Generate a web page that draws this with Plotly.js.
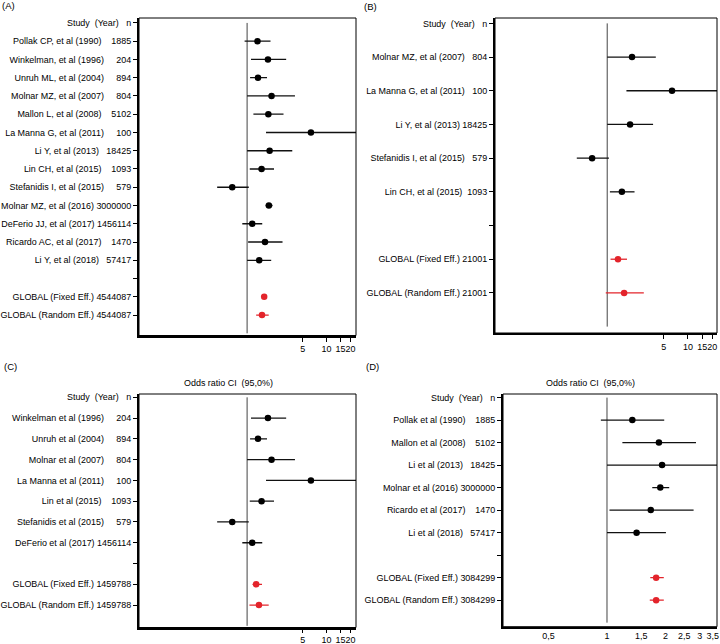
<!DOCTYPE html>
<html><head><meta charset="utf-8">
<script src="https://cdn.plot.ly/plotly-3.0.1.min.js"></script>
<style>html,body{margin:0;padding:0;background:#fff}</style>
</head><body><div id="chart" style="width:720px;height:644px"></div>
<script>
const headerLabel = "Study\u00A0\u00A0(Year)\u00A0\u00A0\u00A0n";
const refValue = 1;

// ---- Panel A ----
const studiesA = ["Pollak CP, et al (1990)","Winkelman, et al (1996)","Unruh ML, et al (2004)","Molnar MZ, et al (2007)","Mallon L, et al (2008)","La Manna G, et al (2011)","Li Y, et al (2013)","Lin CH, et al (2015)","Stefanidis I, et al (2015)","Molnar MZ, et al (2016)","DeFerio JJ, et al (2017)","Ricardo AC, et al (2017)","Li Y, et al (2018)"];
const nA  = ["1885","204","894","804","5102","100","18425","1093","579","3000000","1456114","1470","57417"];
const orA = [1.35, 1.83, 1.37, 2.03, 1.85, 6.35, 1.92, 1.52, 0.65, 1.88, 1.16, 1.68, 1.42];
const loA = [0.93, 1.12, 1.09, 1.00, 1.20, 1.73, 1.00, 1.08, 0.42, 1.71, 0.87, 1.03, 1.00];
const hiA = [1.97, 3.10, 1.78, 4.00, 2.87, 30.0, 3.70, 2.18, 1.05, 2.09, 1.55, 2.79, 2.01];
const globalsA  = ["GLOBAL (Fixed Eff.)","GLOBAL (Random Eff.)"];
const globalNA  = ["4544087","4544087"];
const globalOrA = [1.64, 1.54];
const globalLoA = [1.58, 1.30];
const globalHiA = [1.71, 1.87];

// ---- Panel B ----
const studiesB = ["Molnar MZ, et al (2007)","La Manna G, et al (2011)","Li Y, et al (2013)","Stefanidis I, et al (2015)","Lin CH, et al (2015)"];
const nB  = ["804","100","18425","579","1093"];
const orB = [2.03, 6.35, 1.92, 0.65, 1.52];
const loB = [1.00, 1.73, 1.00, 0.42, 1.08];
const hiB = [4.00, 30.0, 3.70, 1.05, 2.18];
const globalsB  = ["GLOBAL (Fixed Eff.)","GLOBAL (Random Eff.)"];
const globalNB  = ["21001","21001"];
const globalOrB = [1.36, 1.62];
const globalLoB = [1.10, 0.96];
const globalHiB = [1.76, 2.84];

// ---- Panel C ----
const studiesC = ["Winkelman et al (1996)","Unruh et al (2004)","Molnar et al (2007)","La Manna et al (2011)","Lin et al (2015)","Stefanidis et al (2015)","DeFerio et al (2017)"];
const nC  = ["204","894","804","100","1093","579","1456114"];
const orC = [1.83, 1.37, 2.03, 6.35, 1.52, 0.65, 1.16];
const loC = [1.12, 1.09, 1.00, 1.73, 1.08, 0.42, 0.87];
const hiC = [3.10, 1.78, 4.00, 30.0, 2.18, 1.05, 1.55];
const globalsC  = ["GLOBAL (Fixed Eff.)","GLOBAL (Random Eff.)"];
const globalNC  = ["1459788","1459788"];
const globalOrC = [1.30, 1.41];
const globalLoC = [1.17, 1.07];
const globalHiC = [1.54, 1.87];

// ---- Panel D ----
const studiesD = ["Pollak et al (1990)","Mallon et al (2008)","Li et al (2013)","Molnar et al (2016)","Ricardo et al (2017)","Li et al (2018)"];
const nD  = ["1885","5102","18425","3000000","1470","57417"];
const orD = [1.35, 1.85, 1.92, 1.88, 1.68, 1.42];
const loD = [0.93, 1.20, 1.00, 1.71, 1.03, 1.00];
const hiD = [1.97, 2.87, 3.70, 2.09, 2.79, 2.01];
const globalsD  = ["GLOBAL (Fixed Eff.)","GLOBAL (Random Eff.)"];
const globalND  = ["3084299","3084299"];
const globalOrD = [1.79, 1.79];
const globalLoD = [1.67, 1.66];
const globalHiD = [1.96, 1.96];

// tick labels
const xTicksABC = [5, 10, 15, 20];
const xTickTextABC = ["5", "10", "15", "20"];
const xTicksD = [0.5, 1, 1.5, 2, 2.5, 3, 3.5];
const xTickTextD = ["0,5", "1", "1,5", "2", "2,5", "3", "3,5"];
const axisTitle = "Odds ratio CI\u00A0\u00A0(95,0%)";
const panelNames = ["(A)", "(B)", "(C)", "(D)"];

const W = 720, H = 644;
const FONT = "Liberation Sans, Arial, sans-serif";
const FS = 8.95;
const NBSP = "\u00A0";

const traces = [];
const layout = {
  width: W, height: H, margin: {l:0, r:0, t:0, b:0},
  paper_bgcolor: "#fff", plot_bgcolor: "#fff",
  showlegend: false, font: {family: FONT, size: FS, color: "#000"},
  shapes: [], annotations: []
};

function label(name, n, padLen) {
  return name + NBSP + NBSP.repeat(Math.max(0, padLen - n.length)) + n;
}

function addPanel(i, studies, n, or, lo, hi, gl, gn, gor, glo, ghi, padLen, geom) {
  const xa = i === 1 ? "x" : "x" + i;
  const ya = i === 1 ? "y" : "y" + i;
  const k = studies.length;
  const N = k + 4;
  const studyRows = studies.map((_, j) => j + 1);
  const globalRows = gl.map((_, j) => k + 2 + j);
  const tickvals = [], ticktext = [];
  for (let r = 0; r < N; r++) { tickvals.push(r); ticktext.push(""); }
  ticktext[0] = headerLabel;
  studies.forEach((s, j) => { ticktext[j + 1] = label(s, n[j], padLen); });
  gl.forEach((s, j) => { ticktext[k + 2 + j] = label(s, gn[j], padLen); });

  traces.push({x: [refValue, refValue], y: [0, N], xaxis: xa, yaxis: ya, mode: "lines",
    line: {color: "#444", width: 1}, hoverinfo: "skip"});
  traces.push({x: or, y: studyRows, xaxis: xa, yaxis: ya, mode: "markers",
    marker: {color: "#000", size: 6.5},
    error_x: {type: "data", symmetric: false, array: or.map((v, j) => hi[j] - v),
      arrayminus: or.map((v, j) => v - lo[j]), color: "#111", thickness: 1.3, width: 0}});
  traces.push({x: gor, y: globalRows, xaxis: xa, yaxis: ya, mode: "markers",
    marker: {color: "#e3242b", size: 6.5},
    error_x: {type: "data", symmetric: false, array: gor.map((v, j) => ghi[j] - v),
      arrayminus: gor.map((v, j) => v - glo[j]), color: "#e3242b", thickness: 1.3, width: 0}});

  const xk = i === 1 ? "xaxis" : "xaxis" + i;
  const yk = i === 1 ? "yaxis" : "yaxis" + i;
  layout[xk] = {
    type: "log", domain: [geom.x0 / W, geom.x1 / W], range: geom.xr, anchor: ya,
    tickmode: "array", tickvals: geom.tv, ticktext: geom.tt, tickangle: 0,
    ticklabeloverflow: "allow",
    ticks: geom.tl > 0 ? "outside" : "", ticklen: geom.tl, tickcolor: "#000",
    showline: true, linewidth: 2, linecolor: "#000", showgrid: false, zeroline: false,
    tickfont: {family: FONT, size: FS}, fixedrange: true
  };
  layout[yk] = {
    domain: [1 - geom.y1 / H, 1 - geom.y0 / H], range: [N + geom.yb, geom.yt], anchor: xa,
    tickmode: "array", tickvals: tickvals, ticktext: ticktext, tickangle: 0,
    ticklabeloverflow: "allow",
    ticks: "outside", ticklen: 4, tickcolor: "#000",
    showline: true, linewidth: 2, linecolor: "#000", showgrid: false, zeroline: false,
    tickfont: {family: FONT, size: FS}, fixedrange: true
  };
  layout.shapes.push({type: "rect", xref: xa + " domain", yref: ya + " domain",
    x0: 0, x1: 1, y0: 0, y1: 1, line: {color: "#000", width: 1}, layer: "above"});
}

addPanel(1, studiesA, nA, orA, loA, hiA, globalsA, globalNA, globalOrA, globalLoA, globalHiA, 7,
  {x0: 139, x1: 356, y0: 18, y1: 335.5, xr: [-1.36, 1.37], yb: 0.12, yt: -0.27, tv: xTicksABC, tt: xTickTextABC, tl: 4});
addPanel(2, studiesB, nB, orB, loB, hiB, globalsB, globalNB, globalOrB, globalLoB, globalHiB, 5,
  {x0: 495, x1: 717, y0: 18, y1: 333, xr: [-1.39, 1.36], yb: 0.19, yt: -0.16, tv: xTicksABC, tt: xTickTextABC, tl: 4});
addPanel(3, studiesC, nC, orC, loC, hiC, globalsC, globalNC, globalOrC, globalLoC, globalHiC, 7,
  {x0: 139, x1: 356, y0: 394, y1: 627.5, xr: [-1.36, 1.37], yb: 0.08, yt: -0.16, tv: xTicksABC, tt: xTickTextABC, tl: 3});
addPanel(4, studiesD, nD, orD, loD, hiD, globalsD, globalND, globalOrD, globalLoD, globalHiD, 7,
  {x0: 503, x1: 717, y0: 394, y1: 626.7, xr: [-0.535, 0.566], yb: 0.18, yt: -0.16, tv: xTicksD, tt: xTickTextD, tl: 0});

// panel titles
[[228, 383], [590, 383]].forEach(p => {
  layout.annotations.push({text: axisTitle, xref: "paper", yref: "paper", x: p[0] / W, y: 1 - p[1] / H,
    xanchor: "center", yanchor: "middle", showarrow: false, font: {family: FONT, size: FS}});
});
// panel letters
[[0, 5.5], [362, 6.5], [2, 366], [364, 366]].forEach((p, j) => {
  layout.annotations.push({text: panelNames[j], xref: "paper", yref: "paper", x: p[0] / W, y: 1 - p[1] / H,
    xanchor: "left", yanchor: "middle", showarrow: false, font: {family: FONT, size: 9.5}});
});

Plotly.newPlot("chart", traces, layout, {displayModeBar: false, staticPlot: true});
</script></body></html>
